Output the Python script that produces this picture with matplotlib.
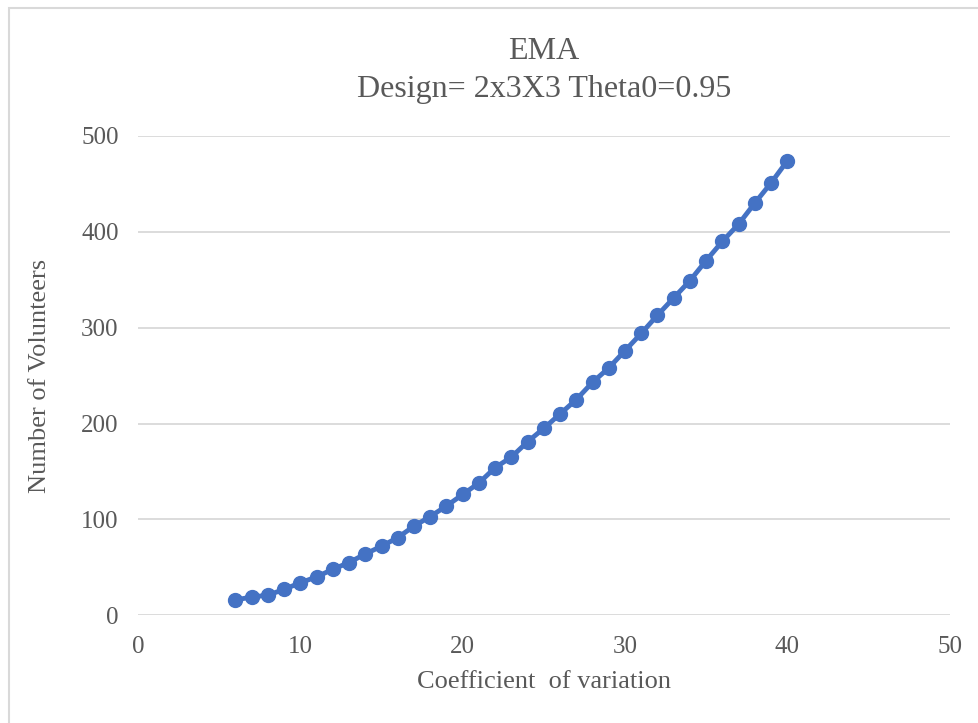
import matplotlib.pyplot as plt
from matplotlib.patches import Rectangle

# Coefficient of variation vs. required number of volunteers
cv = list(range(6, 41))
volunteers = [16, 19, 21, 27, 34, 40, 48, 55, 64, 72,
              81, 93, 103, 114, 126, 138, 154, 165, 181, 195,
              210, 225, 243, 258, 276, 294, 313, 331, 349, 370,
              390, 408, 430, 451, 474]
x_ticks = [0, 10, 20, 30, 40, 50]
y_ticks = [0, 100, 200, 300, 400, 500]

plt.rcParams['font.family'] = ['Liberation Serif', 'DejaVu Serif']
text_color = '#595959'

fig = plt.figure(figsize=(9.79, 7.23), dpi=100)
ax = fig.add_axes([0.141, 0.149, 0.829, 0.663])

# chart frame (runs off the right and bottom edges)
fig.patches.append(Rectangle((0.009, -0.2), 1.2, 1.189, transform=fig.transFigure,
                             fill=False, edgecolor='#D9D9D9', linewidth=1.5))

ax.plot(cv, volunteers, color='#4472C4', linewidth=3.5, marker='o',
        markersize=10, solid_capstyle='round')

ax.set_xlim(0, 50)
ax.set_ylim(0, 500)
ax.set_xticks(x_ticks)
ax.set_yticks(y_ticks)
ax.grid(axis='y', color='#D9D9D9', linewidth=1.3)
ax.set_axisbelow(True)
for side in ['top', 'right', 'left', 'bottom']:
    ax.spines[side].set_visible(False)
ax.tick_params(length=0, labelsize=18, colors=text_color)
ax.tick_params(axis='y', pad=14)
ax.tick_params(axis='x', pad=15)

ax.set_xlabel('Coefficient  of variation', fontsize=19, color=text_color, labelpad=9)
ax.set_ylabel('Number of Volunteers', fontsize=19, color=text_color, labelpad=22)
ax.set_title('EMA\nDesign= 2x3X3 Theta0=0.95', fontsize=23, color=text_color,
             linespacing=1.4, pad=28)

fig.savefig('out.png', dpi=100)
